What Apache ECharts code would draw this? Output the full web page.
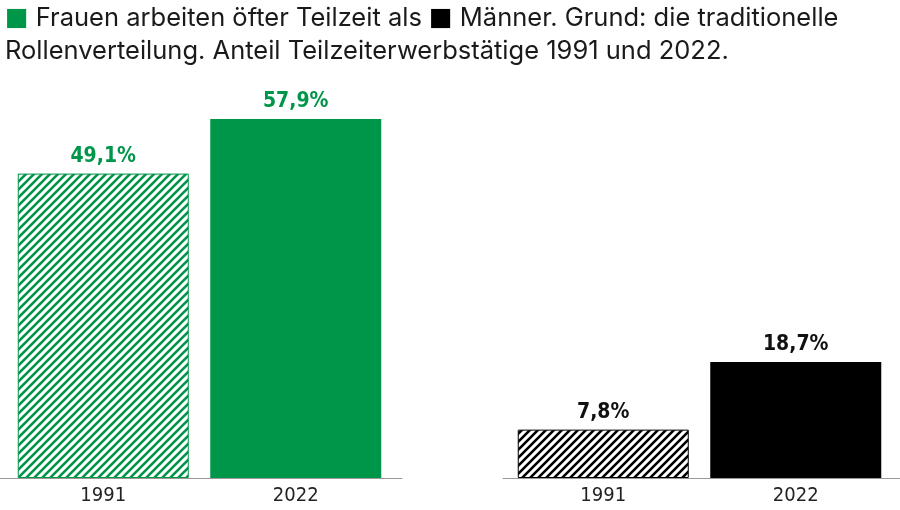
<!DOCTYPE html>
<html><head><meta charset="utf-8">
<script src="https://cdn.jsdelivr.net/npm/echarts@6/dist/echarts.min.js"></script>
<style>html,body{margin:0;padding:0;background:#fff}#c{width:900px;height:510px}</style>
</head><body><div id="c"></div>
<script>
const years = ['1991', '2022'];
const frauen = [49.1, 57.9];
const maenner = [7.8, 18.7];
const titleLine1 = 'Frauen arbeiten öfter Teilzeit als';
const titleLine1b = 'Männer. Grund: die traditionelle';
const titleLine2 = 'Rollenverteilung. Anteil Teilzeiterwerbstätige 1991 und 2022.';

const GREEN = '#00964a';
const BLACK = '#000000';

function hatch(color) {
  const p = 8;
  const cv = document.createElement('canvas');
  cv.width = p; cv.height = p;
  const ctx = cv.getContext('2d');
  ctx.fillStyle = '#fff'; ctx.fillRect(0, 0, p, p);
  ctx.strokeStyle = color; ctx.lineWidth = 2.6; ctx.lineCap = 'square';
  ctx.beginPath();
  ctx.moveTo(-2, p + 2); ctx.lineTo(p + 2, -2);
  ctx.moveTo(-2, 2); ctx.lineTo(2, -2);
  ctx.moveTo(p - 2, p + 2); ctx.lineTo(p + 2, p - 2);
  ctx.stroke();
  return { image: cv, repeat: 'repeat' };
}

const fmt = v => v.toFixed(1).replace('.', ',') + '%';
const labelFont = '"DejaVu Sans Condensed","Liberation Sans Narrow",sans-serif';

function barData(vals, color) {
  return vals.map((v, i) => ({
    value: v,
    itemStyle: i === 0
      ? { color: hatch(color), borderColor: color, borderWidth: 1 }
      : { color: color }
  }));
}

const chart = echarts.init(document.getElementById('c'), null, { renderer: 'canvas' });
const gridTop = 106, gridBottom = 32;
chart.setOption({
  animation: false,
  title: {
    left: 0, top: -3,
    text: '{g|■} ' + titleLine1 + ' {k|■} ' + titleLine1b + '\n' + titleLine2,
    textStyle: {
      fontFamily: 'Inter, sans-serif', fontSize: 25.5, fontWeight: 400, color: '#1a1a1a', lineHeight: 33,
      rich: {
        g: { color: GREEN, fontSize: 25, fontFamily: 'DejaVu Sans', lineHeight: 33 },
        k: { color: BLACK, fontSize: 25, fontFamily: 'DejaVu Sans', lineHeight: 33 }
      }
    }
  },
  grid: [
    { left: 7, width: 385, top: gridTop, bottom: gridBottom },
    { left: 507, width: 385, top: gridTop, bottom: gridBottom },
    { left: 0, width: 402, top: gridTop, bottom: gridBottom },
    { left: 503, width: 397, top: gridTop, bottom: gridBottom }
  ],
  xAxis: [
    { gridIndex: 0, type: 'category', data: years, axisLine: { show: false }, axisTick: { show: false },
      axisLabel: { fontFamily: labelFont, fontSize: 20, color: '#222', margin: 8 } },
    { gridIndex: 1, type: 'category', data: years, axisLine: { show: false }, axisTick: { show: false },
      axisLabel: { fontFamily: labelFont, fontSize: 20, color: '#222', margin: 8 } },
    { gridIndex: 2, type: 'value', min: 0, max: 1, axisLine: { show: true, lineStyle: { color: '#999', width: 1 } },
      axisTick: { show: false }, axisLabel: { show: false }, splitLine: { show: false } },
    { gridIndex: 3, type: 'value', min: 0, max: 1, axisLine: { show: true, lineStyle: { color: '#999', width: 1 } },
      axisTick: { show: false }, axisLabel: { show: false }, splitLine: { show: false } }
  ],
  yAxis: [0, 1, 2, 3].map(i => ({ gridIndex: i, type: 'value', min: 0, max: 60, show: false, splitLine: { show: false } })),
  series: [
    { type: 'bar', xAxisIndex: 0, yAxisIndex: 0, barWidth: 171, data: barData(frauen, GREEN),
      label: { show: true, position: 'top', distance: 7, formatter: p => fmt(p.value),
        fontFamily: labelFont, fontWeight: 'bold', fontSize: 21, color: GREEN } },
    { type: 'bar', xAxisIndex: 1, yAxisIndex: 1, barWidth: 171, data: barData(maenner, BLACK),
      label: { show: true, position: 'top', distance: 7, formatter: p => fmt(p.value),
        fontFamily: labelFont, fontWeight: 'bold', fontSize: 21, color: '#111' } }
  ]
});
</script></body></html>
